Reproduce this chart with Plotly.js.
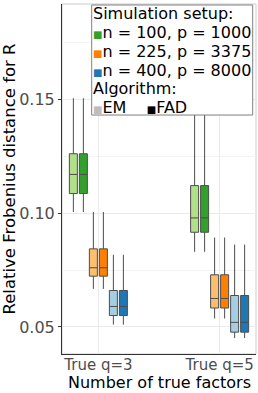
<!DOCTYPE html>
<html>
<head>
<meta charset="utf-8">
<script src="https://cdn.plot.ly/plotly-3.0.1.min.js"></script>
<style>html,body{margin:0;padding:0;background:#fff;}#chart{width:258px;height:393px;}</style>
</head>
<body>
<div id="chart"></div>
<script>
// ---- data ----
const categories = ["True q=3", "True q=5"];
const setups = ["n = 100, p = 1000", "n = 225, p = 3375", "n = 400, p = 8000"];
const algorithms = ["EM", "FAD"];
const xTitle = "Number of true factors";
const yTitle = "Relative Frobenius distance for R";

// per setup: [q=3, q=5]
const lowerWhisker = [[0.1005, 0.0830], [0.0667, 0.0537], [0.0510, 0.0451]];
const q1Vals       = [[0.1086, 0.0916], [0.0723, 0.0583], [0.0550, 0.0477]];
const medianVals   = [[0.1170, 0.0979], [0.0760, 0.0625], [0.0590, 0.0520]];
const q3Vals       = [[0.1261, 0.1121], [0.0843, 0.0729], [0.0660, 0.0638]];
const upperWhisker = [[0.1505, 0.1454], [0.1005, 0.0893], [0.0817, 0.0862]];

const colorsEM  = ["#b2df8a", "#fdbf6f", "#a6cee3"];
const colorsFAD = ["#33a02c", "#ff7f00", "#1f78b4"];

// ---- traces ----
const traces = [];
setups.forEach((s, i) => {
  algorithms.forEach((a, j) => {
    traces.push({
      type: "box",
      name: a + " " + s,
      x: categories,
      q1: q1Vals[i], median: medianVals[i], q3: q3Vals[i],
      lowerfence: lowerWhisker[i], upperfence: upperWhisker[i],
      fillcolor: j === 0 ? colorsEM[i] : colorsFAD[i],
      line: {color: "#4d4d4d", width: 1},
      whiskerwidth: 0,
      boxpoints: false,
      showlegend: false,
      hoverinfo: "skip"
    });
  });
});

// ---- layout helpers (pixel -> paper) ----
const W = 258, H = 393;
const mL = 62, mR = 2, mT = 4, mB = 38.5;
const pw = W - mL - mR, ph = H - mT - mB;
const px = v => (v - mL) / pw;
const py = v => 1 - (v - mT) / ph;

const fontFam = "DejaVu Sans, Liberation Sans, sans-serif";
const legendFont = {family: fontFam, size: 16, color: "#000"};
const sq = (c) => `<span style="color:${c};font-size:10px">■</span>`;

const legendLines = [
  {t: "Simulation setup:", y: 13.5},
  {t: sq(colorsFAD[0]) + setups[0], y: 32.5},
  {t: sq(colorsFAD[1]) + setups[1], y: 51.5},
  {t: sq(colorsFAD[2]) + setups[2], y: 70.5},
  {t: "Algorithm:", y: 89},
  {t: sq("#bdbdbd") + algorithms[0] + "    " + sq("#000000") + algorithms[1], y: 107.5}
];

const annotations = legendLines.map(l => ({
  xref: "paper", yref: "paper",
  x: px(92), y: py(l.y),
  xanchor: "left", yanchor: "middle",
  text: l.t, showarrow: false, align: "left",
  font: legendFont, borderpad: 0
}));
// x axis title as annotation (placed below tick labels)
annotations.push({
  xref: "paper", yref: "paper", x: 0.5, y: py(394),
  xanchor: "center", yanchor: "bottom", showarrow: false,
  text: xTitle, font: {family: fontFam, size: 16, color: "#000"}, borderpad: 0
});

const shapes = [
  // panel border (light)
  {type: "rect", xref: "paper", yref: "paper", x0: 0, x1: 1, y0: 0, y1: 1,
   line: {color: "#cccccc", width: 1}, layer: "below"},
  // legend box
  {type: "rect", xref: "paper", yref: "paper", x0: px(91.7), x1: px(252.7), y0: py(115.2), y1: py(5),
   line: {color: "#7f7f7f", width: 1}, fillcolor: "#ffffff", layer: "above"}
];

const layout = {
  width: W, height: H,
  margin: {l: mL, r: mR, t: mT, b: mB, pad: 0},
  paper_bgcolor: "#ffffff", plot_bgcolor: "#ffffff",
  boxmode: "group", boxgap: 0.505, boxgroupgap: 0.2,
  font: {family: fontFam},
  xaxis: {
    type: "category", range: [-0.3, 1.3],
    showline: true, linecolor: "#333333", linewidth: 1,
    showgrid: true, gridcolor: "#ebebeb", gridwidth: 1,
    ticks: "", ticklabelstandoff: -3,
    tickfont: {family: fontFam, size: 15, color: "#4d4d4d"},
    automargin: false,
    zeroline: false, fixedrange: true
  },
  yaxis: {
    range: [0.0381, 0.1919],
    tickvals: [0.05, 0.10, 0.15], ticktext: ["0.05", "0.10", "0.15"],
    showline: true, linecolor: "#333333", linewidth: 1,
    showgrid: true, gridcolor: "#ebebeb", gridwidth: 1,
    minor: {tickvals: [0.075, 0.125, 0.175], showgrid: true, gridcolor: "#f3f3f3", gridwidth: 1, ticks: ""},
    ticks: "outside", ticklen: 3, tickcolor: "#333333",
    tickfont: {family: fontFam, size: 16, color: "#4d4d4d"},
    title: {text: yTitle, font: {family: fontFam, size: 16.5, color: "#000"}, standoff: 3},
    zeroline: false, fixedrange: true
  },
  showlegend: false,
  shapes: shapes,
  annotations: annotations
};

Plotly.newPlot("chart", traces, layout, {displayModeBar: false, staticPlot: true});
</script>
</body>
</html>
